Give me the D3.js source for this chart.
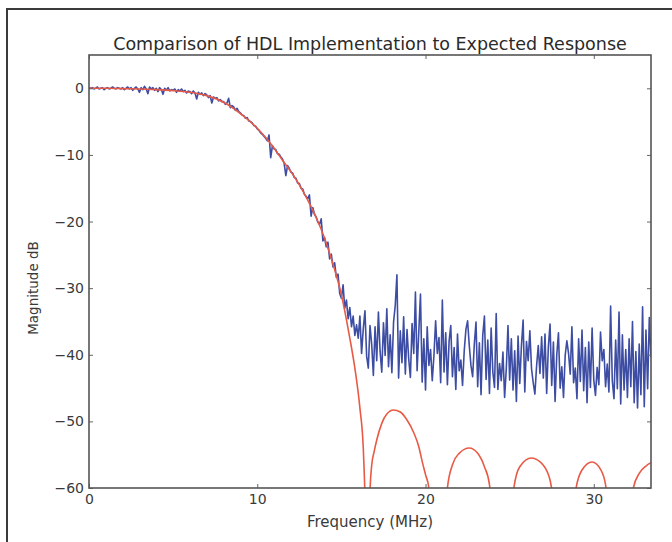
<html>
<head><meta charset="utf-8"></head>
<script src='https://d3js.org/d3.v7.min.js'></script>
<body style="margin:0;background:#fff" onload='init()'>
<div id="chart"></div>
<script>

// expected (ideal) response
var redFreq = [0, 1, 2, 3, 4, 5, 6, 7, 8, 9, 10, 10.5, 11, 11.5, 12, 12.5, 13, 13.5, 14, 14.5, 15, 15.5, 15.8, 16.1, 16.3, 16.45, 16.55,
  16.7, 16.8, 16.95, 17.1, 17.4, 17.7, 18.1, 18.5, 18.9, 19.3, 19.6, 19.8, 20.0, 20.2, 20.35,
  21.15, 21.3, 21.6, 22.0, 22.6, 23.1, 23.5, 23.8, 23.95,
  25.1, 25.25, 25.6, 26.3, 27.0, 27.4, 27.65,
  28.8, 28.95, 29.3, 29.9, 30.4, 30.7, 30.85,
  32.2, 32.35, 32.7, 33.1, 33.4];
var redDb = [0, 0, -0.05, -0.1, -0.2, -0.35, -0.6, -1.1, -2.1, -3.8, -6.0, -7.4, -9.0, -10.8, -12.5, -14.5, -16.8, -19.4, -22.5, -26.4, -31, -37.5, -42, -48, -54, -66, -80,
  -60.5, -56.6, -54.5, -52.8, -50.3, -48.9, -48.3, -48.6, -49.8, -51.7, -53.8, -56, -58, -60, -68,
  -66, -60, -56.5, -54.8, -54.0, -54.8, -56.8, -59.5, -63,
  -66, -60, -56.8, -55.5, -56.6, -58.8, -62,
  -66, -60, -57.3, -56.1, -57.2, -59.5, -63,
  -66, -60, -57.8, -56.7, -56.2];

// HDL implementation, one value every 0.1 MHz from 0 MHz
var hdlStep = 0.1;
var hdlDb = [
  0.1, 0.0, 0.1, -0.1, 0.0, 0.2, -0.1, 0.0, 0.1, -0.2,
  0.0, 0.1, -0.1, 0.0, 0.2, 0.0, -0.1, 0.1, 0.0, -0.1,
  0.1, -0.2, 0.0, 0.2, -0.1, 0.1, -0.3, 0.0, 0.2, -0.1,
  -0.6, 0.1, -0.2, 0.3, -0.1, -0.8, 0.2, -0.1, 0.1, -0.3,
  0.0, -0.5, 0.1, -0.2, -0.9, 0.0, -0.3, 0.1, -0.4, -0.2,
  -0.3, -0.1, -0.6, -0.2, -0.4, -0.1, -0.5, -0.3, -0.7, -0.4,
  -0.5, -0.8, -0.4, -0.7, -1.6, -0.6, -0.9, -0.7, -1.1, -0.8,
  -1.0, -1.4, -1.1, -2.2, -1.3, -1.5, -1.4, -1.9, -1.7, -2.0,
  -2.0, -2.4, -2.2, -1.5, -2.9, -2.6, -2.8, -3.3, -3.0, -3.5,
  -3.7, -4.0, -4.1, -4.5, -4.4, -4.9, -5.0, -5.2, -5.6, -5.7,
  -6.1, -6.3, -6.7, -6.9, -7.2, -7.5, -7.9, -7.0, -10.4, -8.6,
  -9.1, -9.2, -9.8, -9.9, -10.3, -10.6, -11.3, -13.1, -11.6, -12.0,
  -12.6, -12.7, -13.4, -13.5, -14.2, -14.3, -15.0, -15.1, -15.9, -16.2,
  -16.6, -16.0, -19.2, -17.9, -18.9, -19.3, -20.1, -20.4, -19.6, -22.9,
  -22.4, -23.8, -23.1, -25.6, -24.9, -26.8, -26.2, -28.4, -27.9, -30.8,
  -31.5, -29.5, -33.0, -31.8, -34.6, -32.9, -35.8, -34.2, -37.1, -35.5,
  -37.5, -34.2, -39.8, -36.1, -33.4, -40.2, -42.0, -35.6, -38.4, -43.1,
  -35.8, -40.9, -33.6, -39.5, -42.6, -35.2, -40.1, -33.1, -41.8, -37.0,
  -42.7, -35.1, -32.6, -28.0, -43.5, -36.4, -41.2, -34.3, -42.9, -36.2,
  -40.6, -43.4, -35.3, -39.8, -30.6, -42.4, -36.5, -30.9, -44.1, -37.6,
  -45.3, -35.8, -41.6, -39.2, -43.9, -40.1, -34.9, -39.8, -37.4, -44.2,
  -31.8, -42.6, -36.7, -44.5, -38.0, -35.6, -43.3, -38.9, -45.2, -36.9,
  -42.4, -40.8, -44.6, -39.4, -36.2, -34.9, -38.6, -41.6, -43.3, -38.4,
  -35.1, -44.8, -38.2, -46.0, -37.1, -34.2, -43.7, -37.8, -45.8, -36.0,
  -42.6, -44.9, -33.8, -45.2, -41.3, -43.9, -39.6, -46.4, -42.1, -35.6,
  -43.8, -37.6, -45.3, -39.4, -47.0, -37.2, -44.3, -38.6, -34.8, -45.6,
  -38.0, -40.9, -36.4, -42.1, -44.2, -45.9, -41.7, -38.6, -42.8, -37.3,
  -43.5, -36.9, -45.8, -38.8, -35.4, -44.6, -38.1, -47.0, -40.0, -36.7,
  -45.0, -41.8, -46.4, -40.1, -37.9, -39.8, -42.9, -35.8, -44.2, -42.0,
  -46.6, -37.6, -44.0, -36.3, -45.4, -38.9, -47.2, -38.1, -44.9, -36.0,
  -43.8, -46.1, -41.9, -44.5, -36.6, -40.9, -39.2, -44.8, -41.4, -45.6,
  -32.7, -43.9, -46.6, -37.8, -45.1, -33.6, -47.4, -37.0, -45.3, -39.2,
  -46.4, -37.6, -44.8, -35.0, -47.2, -39.5, -48.0, -38.4, -46.0, -32.8,
  -47.8, -36.3, -45.1, -34.4, -40.4
];

var xTicks = [0, 10, 20, 30];
var yTicks = [-60, -50, -40, -30, -20, -10, 0];

function init() {
  var width = 672, height = 542;
  var left = 89, right = 651, top = 55, bottom = 488;

  var x = d3.scaleLinear().domain([0, 33.4]).range([left, right]);
  var y = d3.scaleLinear().domain([-60, 5]).range([bottom, top]);

  var svg = d3.select("#chart").append("svg")
    .attr("width", width)
    .attr("height", height)
    .style("display", "block");

  // outer frame of the figure (top + left edges visible)
  svg.append("path")
    .attr("d", "M7," + height + "V9H" + width)
    .attr("fill", "none")
    .attr("stroke", "#3a3a3a")
    .attr("stroke-width", 2);

  svg.append("clipPath").attr("id", "plotclip")
    .append("rect")
    .attr("x", left).attr("y", top)
    .attr("width", right - left).attr("height", bottom - top);

  var hdl = hdlDb.map(function(v, i) { return [i * hdlStep, v]; });
  var ideal = redFreq.map(function(f, i) { return [f, redDb[i]]; });

  var lines = svg.append("g").attr("clip-path", "url(#plotclip)");

  lines.append("path")
    .datum(hdl)
    .attr("fill", "none")
    .attr("stroke", "#3d4da3")
    .attr("stroke-width", 1.6)
    .attr("stroke-linejoin", "round")
    .attr("d", d3.line().x(function(d) { return x(d[0]); }).y(function(d) { return y(d[1]); }));

  lines.append("path")
    .datum(ideal)
    .attr("fill", "none")
    .attr("stroke", "#e85a45")
    .attr("stroke-width", 1.6)
    .attr("d", d3.line().curve(d3.curveMonotoneX)
      .x(function(d) { return x(d[0]); }).y(function(d) { return y(d[1]); }));

  var fmt = d3.format("d");

  // axes, matplotlib classic: ticks inside on all four sides
  var axBottom = svg.append("g").attr("transform", "translate(0," + bottom + ")")
    .call(d3.axisBottom(x).tickValues(xTicks).tickFormat(fmt).tickSize(-4).tickPadding(6));
  var axTop = svg.append("g").attr("transform", "translate(0," + top + ")")
    .call(d3.axisTop(x).tickValues(xTicks).tickFormat("").tickSize(-4));
  var axLeft = svg.append("g").attr("transform", "translate(" + left + ",0)")
    .call(d3.axisLeft(y).tickValues(yTicks).tickFormat(fmt).tickSize(-4).tickPadding(5));
  var axRight = svg.append("g").attr("transform", "translate(" + right + ",0)")
    .call(d3.axisRight(y).tickValues(yTicks).tickFormat("").tickSize(-4));

  [axBottom, axTop, axLeft, axRight].forEach(function(a) {
    a.select(".domain").remove();
    a.selectAll(".tick line").attr("stroke", "#666").attr("stroke-width", 1);
    a.selectAll("text")
      .style("font-family", "DejaVu Sans")
      .style("font-size", "14px")
      .attr("fill", "#3a3a3a");
  });

  svg.append("rect")
    .attr("x", left).attr("y", top)
    .attr("width", right - left).attr("height", bottom - top)
    .attr("fill", "none")
    .attr("stroke", "#555")
    .attr("stroke-width", 1.6);

  svg.append("text")
    .attr("x", (left + right) / 2)
    .attr("y", 49.5)
    .attr("text-anchor", "middle")
    .style("font-family", "DejaVu Sans")
    .style("font-size", "17.5px")
    .attr("fill", "#2a2a2a")
    .text("Comparison of HDL Implementation to Expected Response");

  svg.append("text")
    .attr("x", (left + right) / 2)
    .attr("y", 527)
    .attr("text-anchor", "middle")
    .style("font-family", "DejaVu Sans")
    .style("font-size", "15px")
    .attr("fill", "#3a3a3a")
    .text("Frequency (MHz)");

  svg.append("text")
    .attr("transform", "translate(38,288) rotate(-90)")
    .attr("text-anchor", "middle")
    .style("font-family", "DejaVu Sans")
    .style("font-size", "13.5px")
    .attr("fill", "#3a3a3a")
    .text("Magnitude dB");
}
</script>
</body>
</html>
